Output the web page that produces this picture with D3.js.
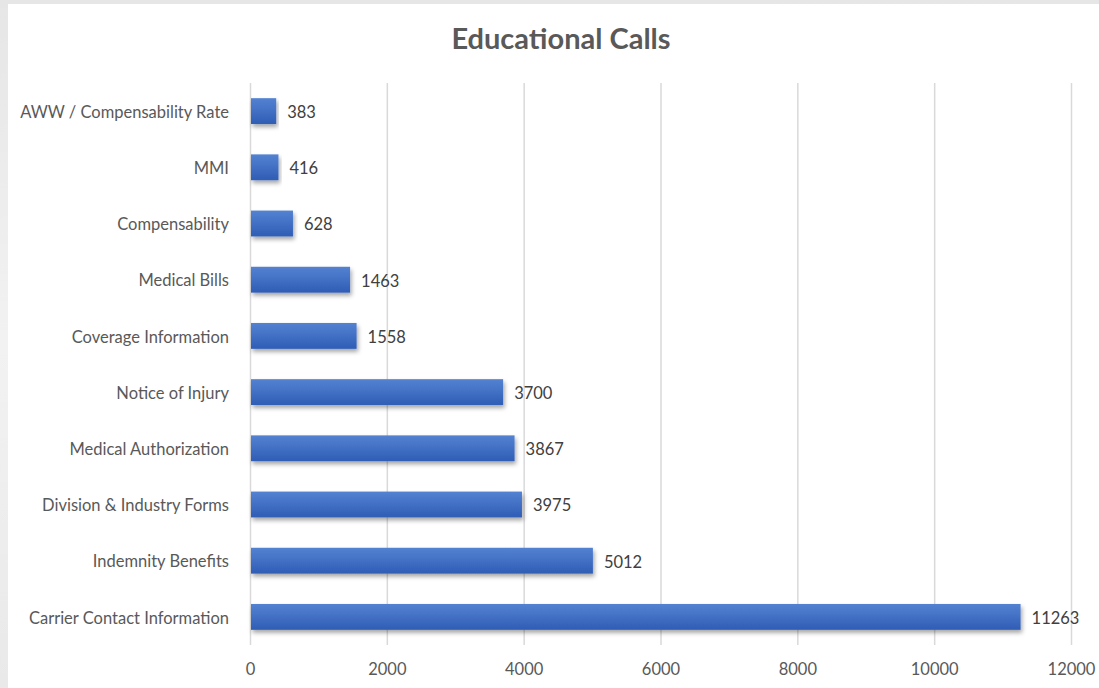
<!DOCTYPE html>
<html><head><meta charset="utf-8">
<script src="https://cdn.jsdelivr.net/npm/d3@7"></script>
<style>
html,body{margin:0;padding:0;background:#fff;}
svg{display:block;}
</style></head>
<body>
<svg id="chart" width="1099" height="688"></svg>
<script>
const categories = ["AWW / Compensability Rate","MMI","Compensability","Medical Bills","Coverage Information","Notice of Injury","Medical Authorization","Division & Industry Forms","Indemnity Benefits","Carrier Contact Information"];
const values = [383,416,628,1463,1558,3700,3867,3975,5012,11263];
const ticks = [0,2000,4000,6000,8000,10000,12000];
const title = "Educational Calls";

const svg = d3.select("#chart");
const W = 1099, H = 688;
const font = "Lato, 'Open Sans', sans-serif";
const defs = svg.append("defs");
const lg = defs.append("linearGradient").attr("id","frameL").attr("x1",0).attr("x2",0).attr("y1",0).attr("y2",1);
lg.append("stop").attr("offset","0%").attr("stop-color","#e6e6e6");
lg.append("stop").attr("offset","50%").attr("stop-color","#f2f2f2");
lg.append("stop").attr("offset","100%").attr("stop-color","#e9e9e9");
const bg = defs.append("linearGradient").attr("id","barG").attr("x1",0).attr("x2",0).attr("y1",0).attr("y2",1);
bg.append("stop").attr("offset","0%").attr("stop-color","#5482d2");
bg.append("stop").attr("offset","100%").attr("stop-color","#2f5db5");
const f = defs.append("filter").attr("id","sh").attr("x","-5%").attr("y","-30%").attr("width","115%").attr("height","180%");
f.append("feDropShadow").attr("dx",1.5).attr("dy",3).attr("stdDeviation",2).attr("flood-color","#000").attr("flood-opacity",0.35);

svg.append("rect").attr("width",W).attr("height",H).attr("fill","url(#frameL)");
svg.append("rect").attr("x",8).attr("y",4).attr("width",W-8).attr("height",H-4).attr("fill","#fff");

const x = d3.scaleLinear().domain([0,12000]).range([250,1071]);
const y = d3.scaleBand().domain(categories).range([83,645]).paddingInner(0.54).paddingOuter(0.27);

svg.append("text").attr("x",561).attr("y",49).attr("text-anchor","middle")
  .attr("font-family",font).attr("font-weight","bold").attr("font-size",29).attr("fill","#595959").text(title);

const gx = svg.append("g").attr("transform","translate(0,645)")
  .call(d3.axisBottom(x).tickValues(ticks).tickSize(-(645-83)).tickFormat(d3.format("d")));
gx.select(".domain").remove();
gx.selectAll(".tick line").attr("stroke","#d9d9d9").attr("stroke-width",1.5);
gx.selectAll(".tick text").attr("font-family",font).attr("font-size",16.5).attr("fill","#595959").attr("dy","1.65em");

const gy = svg.append("g").attr("transform","translate(250,0)")
  .call(d3.axisLeft(y).tickSize(0).tickPadding(21));
gy.select(".domain").remove();
gy.selectAll(".tick text").attr("font-family",font).attr("font-size",16.5).attr("fill","#595959").attr("dy","0.4em");

svg.append("g").selectAll("rect").data(values).join("rect")
  .attr("x",x(0)+1).attr("y",(d,i)=>y(categories[i]))
  .attr("width",d=>x(d)-x(0)-1).attr("height",y.bandwidth())
  .attr("fill","url(#barG)").attr("filter","url(#sh)");

svg.append("g").selectAll("text").data(values).join("text")
  .attr("x",d=>x(d)+11).attr("y",(d,i)=>y(categories[i])+y.bandwidth()/2)
  .attr("dy","0.42em").attr("font-family",font).attr("font-size",16.5).attr("fill","#404040")
  .text(d=>d);
</script>
</body></html>
